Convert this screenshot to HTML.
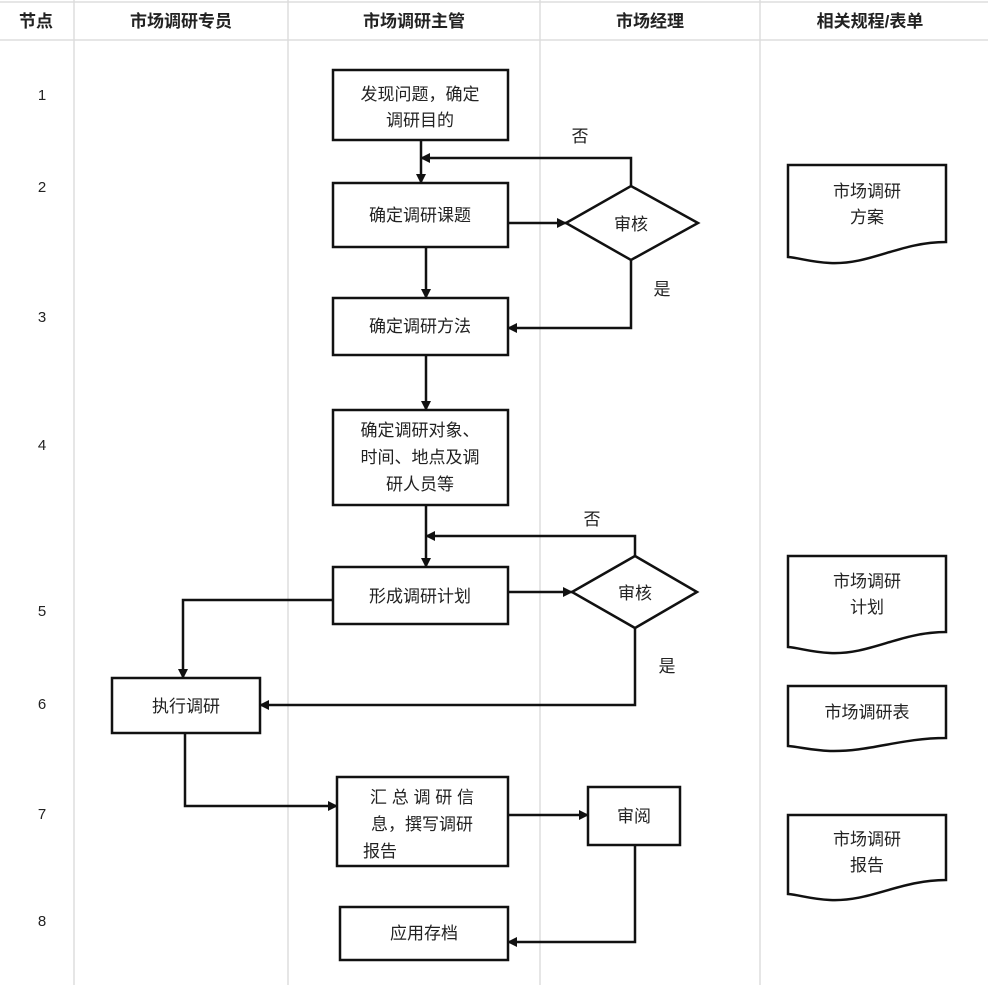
<!DOCTYPE html>
<html><head><meta charset="utf-8"><style>
html,body{margin:0;padding:0;background:#fff}
svg{display:block}
text{font-family:"Liberation Sans","Noto Sans CJK SC",sans-serif;fill:#222}
</style></head><body>
<svg width="988" height="985" viewBox="0 0 988 985" xmlns="http://www.w3.org/2000/svg">
<defs><marker id="a" markerWidth="10" markerHeight="10" refX="9" refY="5" orient="auto" markerUnits="userSpaceOnUse"><path d="M0,0 L10,5 L0,10 z" fill="#111"/></marker></defs>
<g stroke="#ddd" stroke-width="1.5">
<line x1="0" y1="40" x2="988" y2="40"/>
<line x1="74" y1="0" x2="74" y2="985"/>
<line x1="288" y1="0" x2="288" y2="985"/>
<line x1="540" y1="0" x2="540" y2="985"/>
<line x1="760" y1="0" x2="760" y2="985"/>
<line x1="0" y1="2" x2="988" y2="2"/>
</g>
<g font-size="17" font-weight="bold" text-anchor="middle">
<text x="36" y="27">节点</text><text x="181" y="27">市场调研专员</text><text x="414" y="27">市场调研主管</text><text x="650" y="27">市场经理</text><text x="870" y="27">相关规程/表单</text>
</g>
<g font-size="15" text-anchor="middle" font-family="Liberation Serif">
<text x="42" y="100">1</text><text x="42" y="192">2</text><text x="42" y="322">3</text><text x="42" y="450">4</text><text x="42" y="616">5</text><text x="42" y="709">6</text><text x="42" y="819">7</text><text x="42" y="926">8</text>
</g>
<g fill="#fff" stroke="#111" stroke-width="2.5">
<rect x="333" y="70" width="175" height="70"/>
<rect x="333" y="183" width="175" height="64"/>
<polygon points="566,223 631,186 698,223 631,260"/>
<rect x="333" y="298" width="175" height="57"/>
<rect x="333" y="410" width="175" height="95"/>
<rect x="333" y="567" width="175" height="57"/>
<polygon points="572,592 635,556 697,592 635,628"/>
<rect x="112" y="678" width="148" height="55"/>
<rect x="337" y="777" width="171" height="89"/>
<rect x="588" y="787" width="92" height="58"/>
<rect x="340" y="907" width="168" height="53"/>
<path d="M788,165 H946 V242 C900,242 870,265 830,263 C810,262 800,258 788,257 Z"/>
<path d="M788,556 H946 V632 C900,632 870,655 830,653 C810,652 800,648 788,647 Z"/>
<path d="M788,686 H946 V738 C900,738 870,752 830,751 C810,750 800,747 788,746 Z"/>
<path d="M788,815 H946 V880 C900,880 870,902 830,900 C810,899 800,895 788,894 Z"/>
</g>
<g fill="none" stroke="#111" stroke-width="2.5" marker-end="url(#a)">
<path d="M421,140 V183"/>
<path d="M631,186 V158 H421"/>
<path d="M508,223 H566"/>
<path d="M426,247 V298"/>
<path d="M631,260 V328 H508"/>
<path d="M426,355 V410"/>
<path d="M426,505 V567"/>
<path d="M635,556 V536 H426"/>
<path d="M508,592 H572"/>
<path d="M333,600 H183 V678"/>
<path d="M635,628 V705 H260"/>
<path d="M185,733 V806 H337"/>
<path d="M508,815 H588"/>
<path d="M635,845 V942 H508"/>
</g>
<g font-size="17" text-anchor="middle">
<text x="420" y="100">发现问题，确定</text><text x="420" y="126">调研目的</text>
<text x="420" y="221">确定调研课题</text>
<text x="631" y="230">审核</text>
<text x="420" y="332">确定调研方法</text>
<text x="420" y="436">确定调研对象、</text><text x="420" y="463">时间、地点及调</text><text x="420" y="490">研人员等</text>
<text x="420" y="602">形成调研计划</text>
<text x="635" y="599">审核</text>
<text x="186" y="712">执行调研</text>
<text x="422" y="803">汇 总 调 研 信</text><text x="422" y="830">息，撰写调研</text><text x="380" y="857">报告</text>
<text x="634" y="822">审阅</text>
<text x="424" y="939">应用存档</text>
<text x="580" y="142">否</text><text x="662" y="295">是</text>
<text x="592" y="525">否</text><text x="667" y="672">是</text>
<text x="867" y="197">市场调研</text><text x="867" y="223">方案</text>
<text x="867" y="587">市场调研</text><text x="867" y="613">计划</text>
<text x="867" y="718">市场调研表</text>
<text x="867" y="845">市场调研</text><text x="867" y="871">报告</text>
</g>
</svg>
</body></html>
